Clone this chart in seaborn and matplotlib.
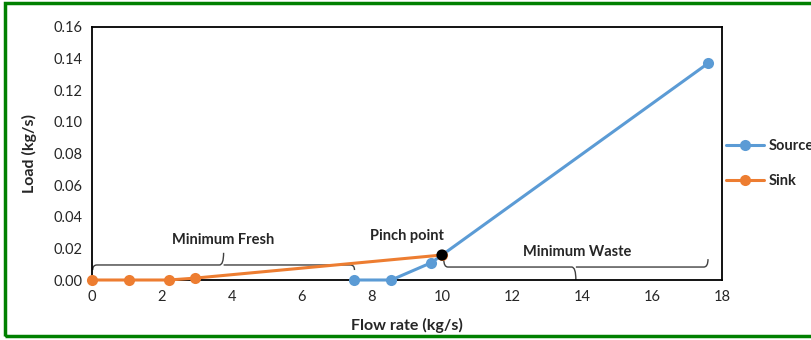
import pandas as pd
import seaborn as sns
import matplotlib.pyplot as plt
from matplotlib.path import Path
from matplotlib.patches import PathPatch, Rectangle

# data
source_flow = [7.5, 8.55, 9.7, 17.6]
source_load = [0.0, 0.0, 0.011, 0.137]
sink_flow = [0.0, 1.05, 2.2, 2.95, 10.0]
sink_load = [0.0, 0.0, 0.0, 0.0012, 0.0158]
pinch_flow = [10.0]
pinch_load = [0.0158]

sns.set_style("white")
plt.rcParams['font.family'] = ['Lato', 'DejaVu Sans']

df = pd.concat([
    pd.DataFrame({'flow': source_flow, 'load': source_load, 'series': 'Source'}),
    pd.DataFrame({'flow': sink_flow, 'load': sink_load, 'series': 'Sink'}),
])
pinch = pd.DataFrame({'flow': pinch_flow, 'load': pinch_load})

fig = plt.figure(figsize=(8.12, 3.4), dpi=100)
ax = fig.add_axes([92/812, 60/340, 630/812, 253/340])

sns.lineplot(data=df, x='flow', y='load', hue='series', sort=False, marker='o',
             palette={'Source': '#5B9BD5', 'Sink': '#ED7D31'}, linewidth=2.2,
             markersize=8, markeredgewidth=0, ax=ax, clip_on=False, zorder=4)
sns.scatterplot(data=pinch, x='flow', y='load', color='black', s=65,
                edgecolor='none', zorder=5, ax=ax, legend=False, clip_on=False)

ax.set_xlim(0, 18)
ax.set_ylim(0, 0.16)
ax.set_xticks(range(0, 19, 2))
ax.set_yticks([i * 0.02 for i in range(9)])
ax.set_yticklabels([f"{i * 0.02:.2f}" for i in range(9)])
ax.tick_params(labelsize=10.5, length=0, pad=7)
for s in ax.spines.values():
    s.set_color('black')
    s.set_linewidth(1.3)
    s.set_zorder(3)
ax.set_xlabel("Flow rate (kg/s)", fontsize=11.5, fontweight='bold', labelpad=10)
ax.set_ylabel("Load (kg/s)", fontsize=11.5, fontweight='bold', labelpad=12)


def brace(x0, x1, y, tip, end):
    # horizontal curly brace: ends bend to y+end, middle notch to y+tip
    xm = (x0 + x1) / 2
    r = 0.12
    verts = [(x0, y + end), (x0, y), (x0 + r, y),
             (xm - r, y), (xm, y), (xm, y + tip),
             (xm, y), (xm + r, y),
             (x1 - r, y), (x1, y), (x1, y + end)]
    codes = [Path.MOVETO, Path.CURVE3, Path.CURVE3,
             Path.LINETO, Path.CURVE3, Path.CURVE3,
             Path.MOVETO, Path.LINETO,
             Path.LINETO, Path.CURVE3, Path.CURVE3]
    ax.add_patch(PathPatch(Path(verts, codes), fill=False, color='#404040',
                           linewidth=1, zorder=1))


brace(sink_flow[0] + 0.02, source_flow[0], 0.0095, 0.0077, -0.0032)
brace(pinch_flow[0] + 0.05, source_flow[-1], 0.0082, -0.0082, 0.005)

ax.text(3.75, 0.0255, "Minimum Fresh", ha='center', va='center', fontsize=10.5, fontweight='bold')
ax.text(9.0, 0.0277, "Pinch point", ha='center', va='center', fontsize=10.5, fontweight='bold')
ax.text(13.85, 0.0177, "Minimum Waste", ha='center', va='center', fontsize=10.5, fontweight='bold')

leg = ax.legend(loc='center left', bbox_to_anchor=(0.99, 0.46), frameon=False,
                fontsize=10.5, handlelength=2.6, handletextpad=0.3,
                labelspacing=1.4, borderaxespad=0.3)
leg.set_title(None)
for t in leg.get_texts():
    t.set_fontweight('bold')

fig.patches.append(Rectangle((5/812, 4/340), 820/812, 333/340, transform=fig.transFigure,
                             fill=False, edgecolor='#008000', linewidth=2.5))

fig.savefig("out.png", dpi=100)
